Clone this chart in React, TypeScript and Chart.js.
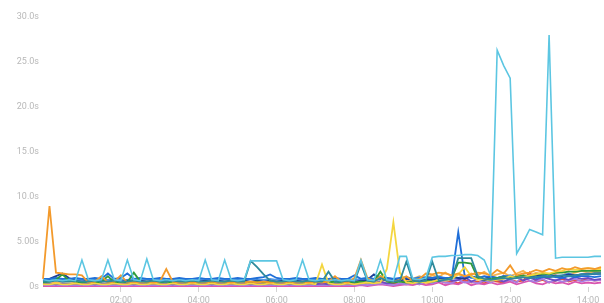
import React, { useEffect, useRef } from "react";
import { Chart, registerables } from "chart.js";

Chart.register(...registerables);

const timeLabels = [
  "00:00","00:10","00:20","00:30","00:40","00:50","01:00","01:10","01:20","01:30","01:40","01:50",
  "02:00","02:10","02:20","02:30","02:40","02:50","03:00","03:10","03:20","03:30","03:40","03:50",
  "04:00","04:10","04:20","04:30","04:40","04:50","05:00","05:10","05:20","05:30","05:40","05:50",
  "06:00","06:10","06:20","06:30","06:40","06:50","07:00","07:10","07:20","07:30","07:40","07:50",
  "08:00","08:10","08:20","08:30","08:40","08:50","09:00","09:10","09:20","09:30","09:40","09:50",
  "10:00","10:10","10:20","10:30","10:40","10:50","11:00","11:10","11:20","11:30","11:40","11:50",
  "12:00","12:10","12:20","12:30","12:40","12:50","13:00","13:10","13:20","13:30","13:40","13:50",
  "14:00","14:10","14:20",
];

const xTickLabels = ["02:00", "04:00", "06:00", "08:00", "10:00", "12:00", "14:00"];
const yTickLabels = ["0s", "5.00s", "10.0s", "15.0s", "20.0s", "25.0s", "30.0s"];

const cyan = [
  0.8,0.7,0.8,0.7,0.8,0.7,3.0,0.8,0.7,0.8,3.0,0.8,
  0.7,3.0,0.8,0.7,3.1,0.8,0.7,0.8,0.7,0.8,0.7,0.8,
  0.7,3.0,0.8,0.7,3.0,0.8,0.7,0.8,2.9,2.9,2.9,2.9,
  2.9,0.8,0.7,0.8,3.0,0.8,0.7,0.8,0.7,0.8,0.7,0.8,
  0.7,3.0,0.8,0.7,3.0,0.8,0.7,3.4,3.4,0.9,0.8,1.0,
  3.3,3.4,3.4,3.5,3.5,3.6,3.6,3.5,3.0,1.3,26.3,24.6,
  23.2,3.7,5.0,6.4,6.1,5.8,28.0,3.2,3.3,3.3,3.3,3.3,
  3.3,3.4,3.4,
];

const teal = [
  0.6,0.6,0.7,0.6,0.6,0.7,0.6,0.6,0.7,0.6,0.6,0.7,
  0.6,0.6,0.7,0.6,0.6,0.7,0.6,0.6,0.7,0.6,0.6,0.7,
  0.6,0.6,0.7,0.6,0.6,0.7,0.6,0.6,2.9,2.2,1.4,0.7,
  0.6,0.6,0.7,0.6,0.6,0.7,0.6,0.6,1.7,0.6,0.6,0.7,
  0.6,2.6,0.7,0.6,1.0,0.7,0.6,0.7,2.8,0.7,0.6,0.7,
  2.8,0.7,0.8,0.9,3.2,3.2,3.2,1.2,0.9,0.8,0.9,1.0,
  0.9,1.0,1.1,1.0,1.1,1.2,1.1,1.2,1.3,1.2,1.3,1.4,
  1.4,1.5,1.5,
];

const orange = [
  0.9,9.0,1.6,1.5,1.4,1.4,1.3,0.5,0.6,1.2,0.5,0.6,
  1.3,0.5,0.6,0.5,0.6,0.5,0.6,2.0,0.6,0.5,0.6,0.5,
  0.6,0.5,0.6,0.5,0.6,0.5,0.6,0.5,0.6,0.5,0.6,0.5,
  0.6,0.5,0.6,0.5,0.6,0.5,0.6,0.5,0.6,1.2,0.6,0.5,
  1.0,3.0,1.0,0.6,1.2,0.7,0.6,0.8,1.2,0.7,0.9,1.5,
  1.4,1.6,1.5,1.3,1.5,1.2,1.4,1.6,1.5,1.3,1.9,1.5,
  2.4,1.3,1.5,1.6,1.9,1.7,2.0,1.8,2.1,1.9,2.2,2.0,
  2.1,2.0,2.2,
];

const yellow = [
  0.3,0.3,0.4,0.3,0.3,0.4,0.3,0.3,0.4,0.3,0.3,0.4,
  0.3,0.3,0.4,0.3,0.3,0.4,0.3,0.3,0.4,0.3,0.3,0.4,
  0.3,0.3,0.4,0.3,0.3,0.4,0.3,0.3,0.4,0.3,0.3,0.4,
  0.3,0.3,0.4,0.3,0.3,0.4,0.3,2.5,0.4,0.3,0.3,0.4,
  0.3,0.4,0.5,0.4,0.5,2.0,7.2,1.6,0.5,0.4,0.6,0.5,
  0.6,0.8,0.7,0.9,1.4,2.2,1.2,0.8,0.9,0.7,0.8,0.9,
  1.2,1.0,1.1,1.3,1.4,1.6,1.5,1.7,1.8,2.0,1.9,2.0,
  2.1,2.0,2.0,
];

const green = [
  0.5,0.6,0.8,1.4,0.7,0.6,0.5,0.6,0.5,0.6,1.2,0.5,
  0.6,0.5,1.6,0.6,0.5,0.6,0.5,0.6,0.5,0.6,0.5,0.6,
  0.5,0.6,0.5,0.6,0.5,0.6,0.5,0.6,0.5,0.6,0.5,0.6,
  0.5,0.6,0.5,0.6,0.5,0.6,0.5,0.6,0.5,0.6,0.5,0.6,
  0.5,0.6,0.5,0.6,1.7,0.6,0.5,0.6,0.5,0.6,0.5,0.7,
  0.6,0.7,0.8,1.0,2.7,2.7,2.6,1.0,0.8,0.9,1.0,1.1,
  1.0,1.2,1.3,1.2,1.4,1.5,1.4,1.6,1.6,1.7,1.7,1.8,
  1.8,1.8,1.8,
];

const blue = [
  0.9,0.9,1.0,0.9,0.9,1.0,0.9,0.9,1.0,0.9,1.5,0.9,
  1.0,1.5,0.9,1.0,0.9,0.9,1.0,0.9,0.9,1.0,0.9,0.9,
  1.0,0.9,0.9,1.0,0.9,0.9,1.0,0.9,0.9,1.0,1.1,1.4,
  1.0,0.9,0.9,1.0,0.9,0.9,1.0,0.9,0.9,1.0,0.9,0.9,
  1.3,0.9,1.0,0.9,1.2,1.0,0.9,1.0,1.1,0.9,1.0,1.1,
  1.0,1.1,1.0,1.0,6.1,1.2,1.1,1.0,1.2,1.1,1.0,1.2,
  1.1,1.0,1.1,1.2,1.0,1.1,1.2,1.1,1.0,1.2,1.1,1.2,
  1.2,1.1,1.2,
];

const darkBlue = [
  0.7,0.9,1.2,1.5,1.0,0.7,0.6,0.7,0.6,0.7,0.6,0.7,
  0.6,0.7,0.6,0.7,0.6,0.7,0.6,0.7,0.6,0.7,0.6,0.7,
  0.6,0.7,0.6,0.7,0.6,0.7,0.6,0.7,0.6,0.7,0.6,0.7,
  0.6,0.7,0.6,0.7,0.6,0.7,0.6,0.7,0.6,0.7,0.6,0.7,
  0.6,0.7,0.8,1.4,0.9,0.7,0.8,0.7,0.9,0.8,0.7,0.9,
  0.8,1.0,0.9,1.1,1.0,0.9,1.2,1.0,0.9,1.1,1.0,1.2,
  1.1,1.0,1.2,1.1,1.3,1.2,1.1,1.3,1.2,1.4,1.3,1.4,
  1.4,1.5,1.5,
];

const lightBlue = [
  0.8,0.8,0.9,0.8,0.8,0.9,0.8,0.8,0.9,0.8,0.8,0.9,
  0.8,0.8,0.9,0.8,0.8,0.9,0.8,0.8,0.9,0.8,0.8,0.9,
  0.8,0.8,0.9,0.8,0.8,0.9,0.8,0.8,0.9,0.8,0.8,0.9,
  0.8,0.8,0.9,0.8,0.8,0.9,0.8,0.8,0.9,0.8,0.8,0.9,
  0.8,0.9,1.0,0.9,0.8,1.0,0.9,0.8,1.0,0.9,1.1,0.9,
  1.0,1.2,0.9,1.1,1.0,1.3,1.0,1.1,0.9,1.2,1.0,1.1,
  1.3,1.0,1.2,1.1,1.3,1.2,1.4,1.2,1.3,1.5,1.3,1.4,
  1.5,1.4,1.5,
];

const purple = [
  0.3,0.4,0.3,0.4,0.3,0.4,0.3,0.4,0.3,0.4,0.3,0.4,
  0.3,0.4,0.3,0.4,0.3,0.4,0.3,0.4,0.3,0.4,0.3,0.4,
  0.3,0.4,0.3,0.4,0.3,0.4,0.3,0.4,0.3,0.4,0.3,0.4,
  0.3,0.4,0.3,0.4,0.3,0.4,0.3,0.4,0.3,0.4,0.3,0.4,
  0.3,0.4,0.5,0.4,0.6,0.4,0.5,0.7,0.5,0.4,0.8,0.6,
  0.9,0.6,1.0,0.7,0.8,1.1,0.6,0.9,0.7,1.0,0.8,0.6,
  0.9,1.2,0.7,1.0,0.8,1.1,0.9,0.7,1.0,0.8,1.1,0.9,
  1.0,0.8,0.9,
];

const lilac = [
  0.2,0.2,0.2,0.2,0.2,0.2,0.2,0.2,0.2,0.2,0.2,0.2,
  0.2,0.2,0.2,0.2,0.2,0.2,0.2,0.2,0.2,0.2,0.2,0.2,
  0.2,0.2,0.2,0.2,0.2,0.2,0.2,0.2,0.2,0.2,0.2,0.2,
  0.2,0.2,0.2,0.2,0.2,0.2,0.2,0.2,0.2,0.2,0.2,0.2,
  0.2,0.3,0.2,0.3,0.4,0.3,0.2,0.4,0.3,0.5,0.3,0.6,
  0.4,0.7,0.5,0.4,0.8,0.5,0.6,0.4,0.7,0.5,0.9,0.6,
  0.8,0.5,1.3,0.7,0.6,0.9,0.5,0.8,0.6,0.7,0.9,0.6,
  0.8,0.7,0.8,
];

const pink = [
  0.1,0.1,0.1,0.1,0.1,0.1,0.1,0.1,0.1,0.1,0.1,0.1,
  0.1,0.1,0.1,0.1,0.1,0.1,0.1,0.1,0.1,0.1,0.1,0.1,
  0.1,0.1,0.1,0.1,0.1,0.1,0.1,0.1,0.1,0.1,0.1,0.1,
  0.1,0.1,0.1,0.1,0.1,0.1,0.1,0.1,0.1,0.1,0.1,0.1,
  0.1,0.2,0.1,0.2,0.3,0.2,0.1,0.2,0.3,0.2,0.4,0.2,
  0.3,0.5,0.2,0.4,0.3,0.6,0.2,0.4,0.3,0.5,0.3,0.4,
  0.6,0.3,0.5,0.7,0.4,0.3,0.6,0.4,0.5,0.3,0.6,0.4,
  0.5,0.4,0.5,
];

const red = [
  0.2,0.3,0.2,0.3,0.2,0.3,0.2,0.3,0.2,0.3,0.2,0.3,
  0.2,0.3,0.2,0.3,0.2,0.3,0.2,0.3,0.2,0.3,0.2,0.3,
  0.2,0.3,0.2,0.3,0.2,0.3,0.2,0.3,0.2,0.3,0.2,0.3,
  0.2,0.3,0.2,0.3,0.2,0.3,0.2,0.3,0.2,0.3,0.2,0.3,
  0.3,0.2,0.4,0.3,0.5,0.3,0.4,0.3,0.6,0.4,0.3,0.5,
  0.4,0.7,0.5,0.6,0.4,0.8,0.5,0.6,0.4,0.7,0.6,0.5,
  0.8,0.6,0.7,1.6,0.6,0.8,0.5,0.7,0.9,0.6,0.8,0.7,
  0.9,0.7,0.8,
];

const paleOrange = [
  0.4,0.4,0.5,0.4,0.4,0.5,0.4,0.4,0.5,0.4,0.4,0.5,
  0.4,0.4,0.5,0.4,0.4,0.5,0.4,0.4,0.5,0.4,0.4,0.5,
  0.4,0.4,0.5,0.4,0.4,0.5,0.4,0.4,0.5,0.4,0.4,0.5,
  0.4,0.4,0.5,0.4,0.4,0.5,0.4,0.4,0.5,0.4,0.4,0.5,
  0.5,0.6,0.5,0.7,0.6,0.8,0.6,1.0,0.7,0.9,1.2,1.0,
  1.3,1.1,1.6,1.2,1.4,1.1,1.5,1.3,1.7,1.2,1.4,1.6,
  1.2,1.5,1.8,1.3,1.6,1.4,1.2,1.5,1.7,1.4,1.6,1.8,
  1.6,1.7,1.6,
];

const seriesNames = [
  "cyan", "teal", "orange", "yellow", "green", "blue", "darkBlue",
  "lightBlue", "purple", "lilac", "pink", "red", "paleOrange",
];
const seriesValues = [
  cyan, teal, orange, yellow, green, blue, darkBlue,
  lightBlue, purple, lilac, pink, red, paleOrange,
];
const seriesColors = [
  "#5cc6e2", "#2f8a9c", "#f39a2c", "#f4d640", "#2e9b3a", "#1f6fd8", "#1e3f95",
  "#4f98e6", "#6a4bc4", "#a77ee2", "#d955b0", "#e4533a", "#f7b450",
];

export default function App() {
  const canvasRef = useRef<HTMLCanvasElement | null>(null);

  useEffect(() => {
    if (!canvasRef.current) return;
    const chart = new Chart(canvasRef.current, {
      type: "line",
      data: {
        labels: timeLabels,
        datasets: seriesValues.map((vals, i) => ({
          label: seriesNames[i],
          data: vals,
          borderColor: seriesColors[i],
          backgroundColor: seriesColors[i],
          borderWidth: i === 0 ? 1.6 : 1.8,
          pointRadius: 0,
          tension: 0,
          fill: false,
        })),
      },
      options: {
        animation: false,
        responsive: true,
        maintainAspectRatio: false,
        layout: { padding: { top: 17, left: 0, right: 0, bottom: 0 } },
        plugins: { legend: { display: false }, tooltip: { enabled: false } },
        scales: {
          x: {
            type: "category",
            offset: false,
            border: { display: false },
            grid: {
              display: true,
              drawOnChartArea: false,
              drawTicks: true,
              tickLength: 5,
              color: (ctx: any) =>
                ctx.index % 12 === 0 && ctx.index > 0 ? "#d4d4d4" : "rgba(0,0,0,0)",
            },
            ticks: {
              autoSkip: false,
              maxRotation: 0,
              minRotation: 0,
              padding: 3,
              color: "#b8b8b8",
              font: { family: "Roboto", size: 9 },
              callback: (_v: any, idx: number) =>
                idx % 12 === 0 && idx > 0 ? xTickLabels[idx / 12 - 1] : "",
            },
            afterFit: (s: any) => {
              s.height = 16;
            },
          },
          y: {
            min: 0,
            max: 30,
            border: { display: false },
            grid: { display: false, drawTicks: false },
            ticks: {
              stepSize: 5,
              padding: 4,
              color: "#b8b8b8",
              font: { family: "Roboto", size: 9 },
              callback: (v: any) => yTickLabels[Math.round(Number(v) / 5)],
            },
            afterFit: (s: any) => {
              s.width = 43;
            },
          },
        },
      },
    });
    return () => chart.destroy();
  }, []);

  return (
    <div style={{ position: "fixed", left: 0, top: 0, width: 604, height: 303, background: "#fff" }}>
      <canvas ref={canvasRef} />
    </div>
  );
}
